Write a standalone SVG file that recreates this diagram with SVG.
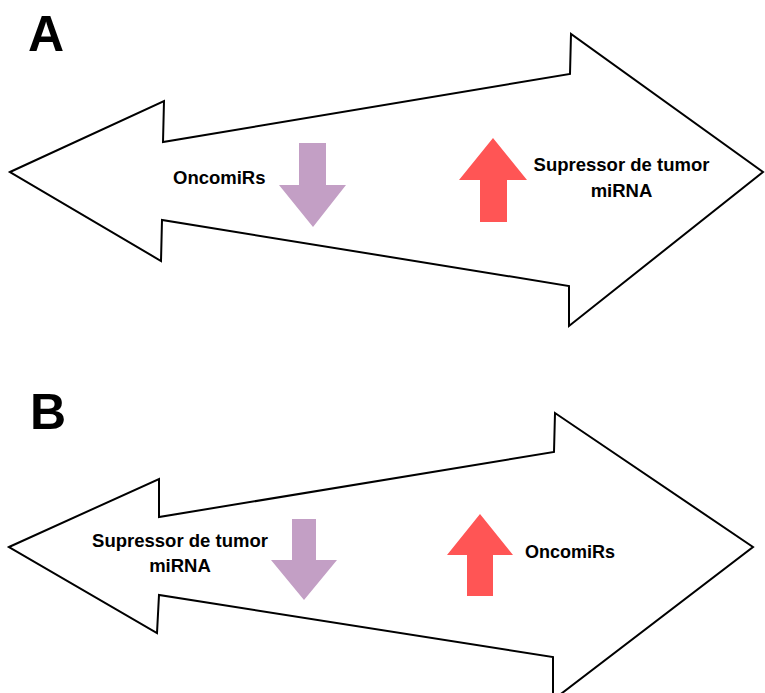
<svg xmlns="http://www.w3.org/2000/svg" width="765" height="693" viewBox="0 0 765 693">
<style>
.big{fill:#fff;stroke:#000;stroke-width:2;stroke-linejoin:miter}
.down{fill:#C39FC5}
.up{fill:#FF5555}
.t{font-family:"Liberation Sans",Arial,sans-serif;font-weight:bold;font-size:18.5px;fill:#000}
.lbl{font-family:"Liberation Sans",Arial,sans-serif;font-weight:bold;font-size:50px;fill:#000}
</style>
<rect width="765" height="693" fill="#fff"/>
<g id="panelA">
<text class="lbl" x="28" y="51">A</text>
<g id="A-bigarrow"><path class="big" d="M10,172 L164,101 L163,142 L570,74 L571,34 L763,172 L569,326 L569,286 L162,220 L161,261 Z"/></g>
<g id="A-down"><path class="down" d="M299,143 L326,143 L326,185 L346,185 L313,227 L279,185 L299,185 Z"/></g>
<g id="A-up"><path class="up" d="M493,138 L527,180 L507,180 L507,222 L480,222 L480,180 L459,180 Z"/></g>
<g id="A-oncomirs"><text class="t" x="173" y="184">OncomiRs</text></g>
<g id="A-supressor"><text class="t" text-anchor="middle" x="621.5" y="171">Supressor de tumor</text><text class="t" text-anchor="middle" x="621.5" y="197">miRNA</text></g>
</g>
<g id="panelB">
<text class="lbl" x="30" y="429">B</text>
<g id="B-bigarrow"><path class="big" d="M9,547 L159,479 L159,517 L554,452 L555,413 L753,547 L553,700 L553,657 L159,595 L157,633 Z"/></g>
<g id="B-down"><path class="down" d="M292,519 L316,519 L316,560 L337,560 L304,600 L271,560 L292,560 Z"/></g>
<g id="B-up"><path class="up" d="M480,514 L513,555 L493,555 L493,596 L467,596 L467,555 L447,555 Z"/></g>
<g id="B-supressor"><text class="t" text-anchor="middle" x="180" y="547" font-size="18">Supressor de tumor</text><text class="t" text-anchor="middle" x="180" y="572">miRNA</text></g>
<g id="B-oncomirs"><text class="t" x="525" y="558" style="font-size:18px">OncomiRs</text></g>
</g>
<g id="connectors"/>
</svg>
